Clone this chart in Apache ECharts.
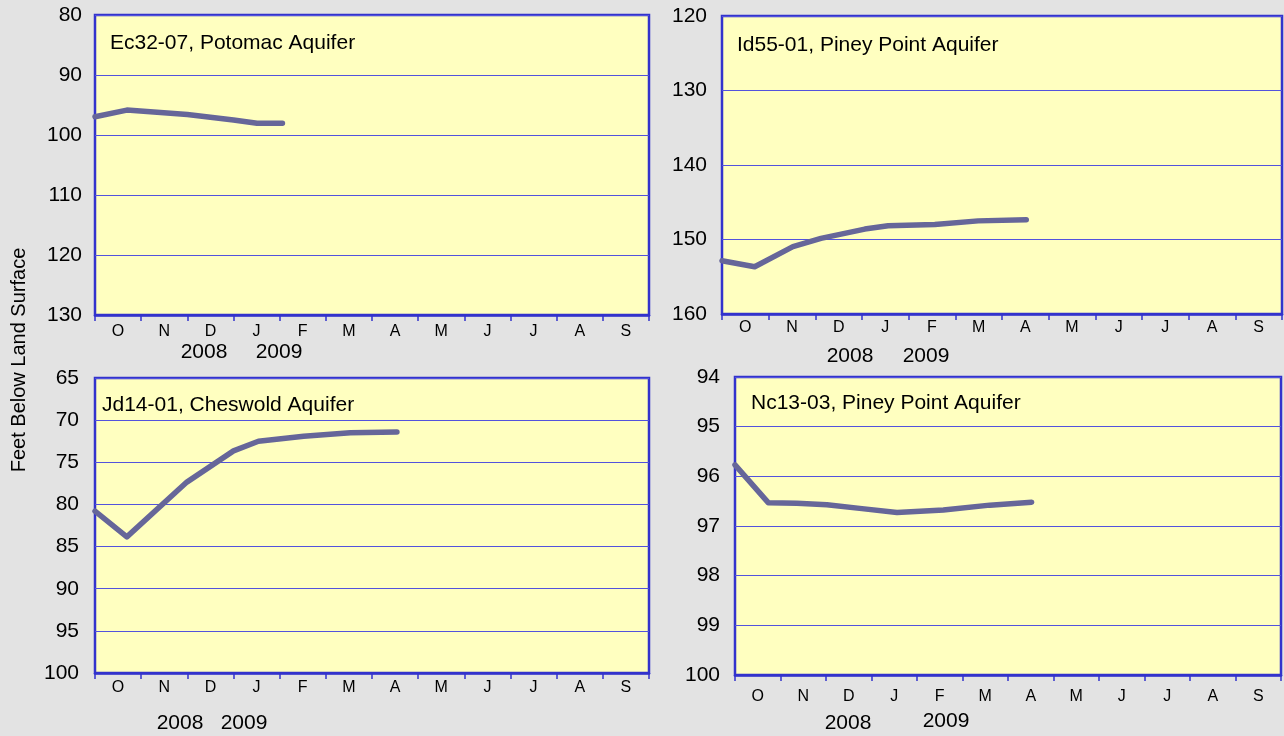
<!DOCTYPE html>
<html>
<head>
<meta charset="utf-8">
<script src="https://cdn.jsdelivr.net/npm/echarts@6/dist/echarts.min.js"></script>
<style>
html,body{margin:0;padding:0;background:#e3e3e3;}
#c{width:1284px;height:736px;}
</style>
</head>
<body>
<div id="c"></div>
<script>
// Month categories (water year Oct 2008 - Sep 2009)
const months = ['O','N','D','J','F','M','A','M','J','J','A','S'];
const yearLabels = ['2008','2009'];
const yAxisTitle = 'Feet Below Land Surface';

// Panel titles
const titles = ['Ec32-07, Potomac Aquifer','Id55-01, Piney Point Aquifer','Jd14-01, Cheswold Aquifer','Nc13-03, Piney Point Aquifer'];

// Measurement times (months elapsed since 1 Oct 2008) and depth to water (ft)
const ec32Time  = [0, 0.69, 2.0, 3.0, 3.51, 4.06];
const ec32Depth = [96.95, 95.85, 96.6, 97.5, 98.05, 98.05];

const id55Time  = [0, 0.70, 1.52, 2.12, 3.06, 3.56, 4.56, 5.49, 6.52];
const id55Depth = [152.85, 153.65, 150.95, 149.85, 148.6, 148.15, 148.0, 147.5, 147.35];

const jd14Time  = [0, 0.69, 1.99, 3.0, 3.54, 4.52, 5.53, 6.54];
const jd14Depth = [80.8, 83.85, 77.35, 73.65, 72.5, 71.9, 71.5, 71.4];

const nc13Time  = [0, 0.73, 1.36, 2.02, 2.79, 3.56, 4.58, 5.6, 6.52];
const nc13Depth = [95.77, 96.53, 96.54, 96.57, 96.65, 96.73, 96.68, 96.58, 96.52];

// Y axis ranges
const yRanges = [
  {min: 80, max: 130, interval: 10},
  {min: 120, max: 160, interval: 10},
  {min: 65, max: 100, interval: 5},
  {min: 94, max: 100, interval: 1}
];

const seriesData = [
  ec32Time.map((t,i)=>[t, ec32Depth[i]]),
  id55Time.map((t,i)=>[t, id55Depth[i]]),
  jd14Time.map((t,i)=>[t, jd14Depth[i]]),
  nc13Time.map((t,i)=>[t, nc13Depth[i]])
];

// Layout
const FONT = "'Liberation Sans', Arial, sans-serif";
const grids = [
  {left: 95, top: 15, width: 554, height: 300},
  {left: 722, top: 16, width: 560, height: 298},
  {left: 95, top: 378, width: 554, height: 295},
  {left: 735, top: 377, width: 546, height: 298}
];
const monthMargins = [9, 6, 7, 14];
const yLabelMargins = [13, 15, 16, 15];
const titlePos = [[110, 43], [737, 45], [102, 405], [751, 403]];
const yearPos = [
  [[204, 352], [279, 352]],
  [[850, 356], [926, 356]],
  [[180, 723], [244, 723]],
  [[848, 723], [946, 721]]
];

const BLUE = '#3333cc';
const option = {
  backgroundColor: '#e3e3e3',
  animation: false,
  grid: grids.map(g => Object.assign({}, g, {
    show: true, backgroundColor: '#ffffc0', borderColor: BLUE, borderWidth: 2.5,
    containLabel: false
  })),
  xAxis: [],
  yAxis: [],
  series: [],
  graphic: []
};

grids.forEach((g, i) => {
  // value axis for data (hidden)
  option.xAxis.push({
    type: 'value', gridIndex: i, min: 0, max: 12, show: false
  });
  // category axis for month labels
  option.xAxis.push({
    type: 'category', gridIndex: i, data: months, boundaryGap: true, position: 'bottom',
    axisLine: {show: true, lineStyle: {color: BLUE, width: 2.5}},
    axisTick: {show: true, length: 6, lineStyle: {color: BLUE, width: 1.5}},
    axisLabel: {show: true, color: '#000', fontSize: 16, fontFamily: FONT, margin: monthMargins[i], interval: 0},
    splitLine: {show: false}
  });
  option.yAxis.push({
    type: 'value', gridIndex: i, inverse: true,
    min: yRanges[i].min, max: yRanges[i].max, interval: yRanges[i].interval,
    axisLine: {show: false}, axisTick: {show: false},
    axisLabel: {color: '#000', fontSize: 21, fontFamily: FONT, margin: yLabelMargins[i]},
    splitLine: {show: true, lineStyle: {color: '#5252dd', width: 1}}
  });
  option.series.push({
    type: 'line', xAxisIndex: i * 2, yAxisIndex: i,
    data: seriesData[i], symbol: 'none', smooth: false,
    lineStyle: {color: '#666699', width: 5.5, cap: 'round', join: 'round'},
    clip: true
  });
  option.graphic.push({
    type: 'text', x: titlePos[i][0], y: titlePos[i][1],
    style: {text: titles[i], fill: '#000', font: '21px ' + FONT, align: 'left', verticalAlign: 'middle'}
  });
  yearLabels.forEach((yl, k) => {
    option.graphic.push({
      type: 'text', x: yearPos[i][k][0], y: yearPos[i][k][1],
      style: {text: yl, fill: '#000', font: '21px ' + FONT, align: 'center', verticalAlign: 'middle'}
    });
  });
});

option.graphic.push({
  type: 'text', x: 19, y: 360, rotation: Math.PI / 2,
  style: {text: yAxisTitle, fill: '#000', font: '20px ' + FONT, align: 'center', verticalAlign: 'middle'}
});

const chart = echarts.init(document.getElementById('c'), null, {renderer: 'canvas'});
chart.setOption(option);
</script>
</body>
</html>
